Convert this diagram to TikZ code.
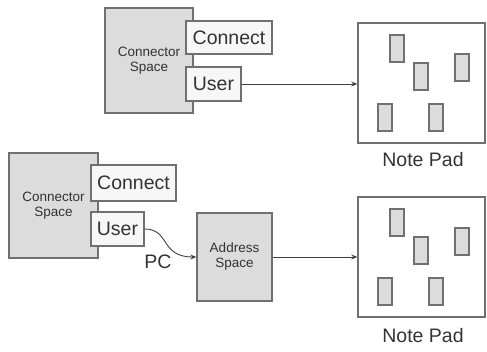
\documentclass[tikz,border=0pt]{standalone}
\usepackage{fontspec}
\setmainfont{Liberation Sans}
\usetikzlibrary{arrows.meta}
\definecolor{boxline}{HTML}{707070}
\definecolor{boxfill}{HTML}{DCDCDC}
\definecolor{txt}{HTML}{333333}
\begin{document}
\begin{tikzpicture}[x=1pt,y=-1pt,
  graybox/.style={draw=boxline,fill=boxfill,line width=1.4pt,inner sep=0pt,align=center,
    font=\fontsize{13.5}{15}\selectfont,text=txt},
  portbox/.style={draw=boxline,fill=white!97!black,line width=1.3pt,inner sep=0pt,
    font=\fontsize{19.5}{22}\selectfont,text=txt},
  padbox/.style={draw=boxline,fill=white,line width=1.4pt,inner sep=0pt,minimum width=127pt,minimum height=120pt},
  note/.style={draw=boxline,fill=boxfill,line width=1.1pt},
  lbl/.style={font=\fontsize{19.5}{22}\selectfont,text=txt,inner sep=0pt},
  conn/.style={draw=black!75,line width=0.9pt,-{Stealth[length=6pt,width=5pt]}}]
\useasboundingbox (0,0) rectangle (487,352);

% top row
\node[graybox,minimum width=88pt,minimum height=105pt] (cs1) at (149,60.5) {Connector\\Space};
\node[portbox,minimum width=86pt,minimum height=33pt] (con1) at (229,37.5) {Connect};
\node[portbox,minimum width=55pt,minimum height=34pt] (usr1) at (213.5,84) {User};
\node[padbox] (pad1) at (421.5,83) {};
\node[lbl] (np1) at (423,160) {Note Pad};
\begin{scope}[shift={(358,23)}]
  \draw[note] (32,12) rectangle ++(14,27);
  \draw[note] (56,40) rectangle ++(14,27);
  \draw[note] (97,31) rectangle ++(14,27);
  \draw[note] (20,81) rectangle ++(14,27);
  \draw[note] (71,81) rectangle ++(14,27);
\end{scope}
\draw[conn] (usr1.east) -- (usr1.east -| pad1.west);

% bottom row
\node[graybox,minimum width=89pt,minimum height=105pt] (cs2) at (53.5,205.5) {Connector\\Space};
\node[portbox,minimum width=85pt,minimum height=36pt] (con2) at (133.5,183) {Connect};
\node[portbox,minimum width=53pt,minimum height=34pt] (usr2) at (117.5,229) {User};
\node[graybox,minimum width=75pt,minimum height=88pt] (addr) at (234.5,257) {Address\\Space};
\node[padbox] (pad2) at (421.5,257) {};
\node[lbl] (np2) at (423,336) {Note Pad};
\node[lbl] (pc) at (158,262) {PC};
\begin{scope}[shift={(358,197)}]
  \draw[note] (32,12) rectangle ++(14,27);
  \draw[note] (56,40) rectangle ++(14,27);
  \draw[note] (97,31) rectangle ++(14,27);
  \draw[note] (20,81) rectangle ++(14,27);
  \draw[note] (71,81) rectangle ++(14,27);
\end{scope}
\draw[conn] (usr2.east) .. controls (170,229) and (160,257) .. (addr.west);
\draw[conn] (addr.east) -- (pad2.west);
\end{tikzpicture}
\end{document}
